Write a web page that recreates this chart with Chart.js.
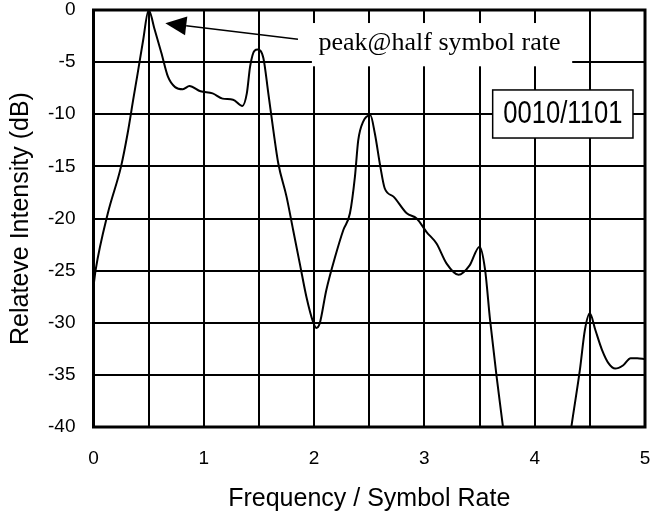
<!DOCTYPE html>
<html>
<head>
<meta charset="utf-8">
<script src="https://cdn.jsdelivr.net/npm/chart.js@4"></script>
<style>
body{
    margin:0;
    background:#fff;
}
#wrap{
    width:650px;
    height:518px;
}
</style>
</head>
<body>
<div id="wrap">
<canvas id="spectrumChart" width="650" height="518"></canvas>
</div>
<script>

// ======================
// DATA
// ======================

const freq = [
    0.00, 0.02, 0.13, 0.25, 0.31, 0.36, 0.40, 0.45, 0.50,
    0.555, 0.615, 0.675, 0.74, 0.81, 0.87, 0.97, 1.08, 1.17,
    1.265, 1.35, 1.39, 1.42, 1.46, 1.49, 1.54, 1.585, 1.63,
    1.675, 1.75, 1.81, 1.87, 1.93, 1.99, 2.02, 2.05, 2.11,
    2.19, 2.265, 2.325, 2.37, 2.40, 2.445, 2.51, 2.55, 2.60,
    2.64, 2.72, 2.84, 2.93, 3.02, 3.11, 3.20, 3.31, 3.41,
    3.50, 3.55, 3.595, 3.655, 3.71, 3.75,
    4.00,
    4.30, 4.335, 4.41, 4.455, 4.50, 4.55, 4.61, 4.67, 4.73,
    4.80, 4.87, 4.93, 5.00
];

const intensity = [
    -26.5, -24.9, -19.5, -15.0, -11.8, -8.6, -6.1, -2.9, 0,
    -1.9, -4.1, -6.4, -7.4, -7.6, -7.3, -7.8, -8.0, -8.5,
    -8.6, -9.2, -8.0, -5.4, -3.9, -3.8, -4.6, -8.0, -11.5,
    -14.7, -17.9, -21.1, -24.3, -27.5, -29.9, -30.5, -30.1, -26.9,
    -23.7, -21.1, -19.5, -16.0, -12.5, -10.7, -10.1, -11.8, -15.0,
    -17.1, -17.9, -19.5, -20.0, -21.3, -22.4, -24.3, -25.4, -24.5,
    -22.7, -24.9, -29.7, -35.2, -39.8, -43.5,
    null,
    -42.5, -39.8, -34.5, -30.7, -29.1, -30.7, -32.6, -33.9, -34.4,
    -34.1, -33.4, -33.4, -33.5
];

const xTicks = [0, 1, 2, 3, 4, 5];

const peakNote = "peak@half symbol rate";
const codeNote = "0010/1101";

// ======================
// ANNOTATIONS
// ======================

const notes = {
    textBox: {x0: 1.98, x1: 4.34, y0: -1.25, y1: -5.4},
    text: {x: 2.04, y: -3.88},
    arrowTip: {x: 0.651, y: -1.28},
    arrowEnd: {x: 1.854, y: -2.8},
    codeBox: {x0: 3.619, x1: 4.891, y0: -7.67, y1: -12.28}
};

const framePlugin = {
    id: "frame",
    beforeDatasetsDraw(chart){
        const {ctx, chartArea} = chart;
        ctx.save();
        ctx.strokeStyle = "#000";
        ctx.lineWidth = 3;
        ctx.strokeRect(
            chartArea.left,
            chartArea.top,
            chartArea.right - chartArea.left,
            chartArea.bottom - chartArea.top
        );
        ctx.restore();
    },
    afterDatasetsDraw(chart){
        const {ctx} = chart;
        const xs = chart.scales.x;
        const ys = chart.scales.y;
        const px = v => xs.getPixelForValue(v);
        const py = v => ys.getPixelForValue(v);

        ctx.save();

        // white patch behind the peak note
        const tb = notes.textBox;
        ctx.fillStyle = "#fff";
        ctx.fillRect(px(tb.x0), py(tb.y0), px(tb.x1) - px(tb.x0), py(tb.y1) - py(tb.y0));

        ctx.fillStyle = "#000";
        ctx.font = "26px 'Liberation Serif', 'DejaVu Serif', serif";
        ctx.textAlign = "left";
        ctx.textBaseline = "alphabetic";
        ctx.fillText(peakNote, px(notes.text.x), py(notes.text.y));

        // arrow
        const tx = px(notes.arrowTip.x);
        const ty = py(notes.arrowTip.y);
        const ex = px(notes.arrowEnd.x);
        const ey = py(notes.arrowEnd.y);
        const ang = Math.atan2(ey - ty, ex - tx);
        const headLen = 21;
        const headHalf = 9.5;
        const bx = tx + Math.cos(ang) * headLen;
        const by = ty + Math.sin(ang) * headLen;

        ctx.strokeStyle = "#000";
        ctx.lineWidth = 1.5;
        ctx.beginPath();
        ctx.moveTo(bx, by);
        ctx.lineTo(ex, ey);
        ctx.stroke();

        ctx.beginPath();
        ctx.moveTo(tx, ty);
        ctx.lineTo(bx - Math.sin(ang) * headHalf, by + Math.cos(ang) * headHalf);
        ctx.lineTo(bx + Math.sin(ang) * headHalf, by - Math.cos(ang) * headHalf);
        ctx.closePath();
        ctx.fill();

        // code label box
        const cb = notes.codeBox;
        const l = px(cb.x0), r = px(cb.x1), t = py(cb.y0), b = py(cb.y1);
        ctx.fillStyle = "#fff";
        ctx.fillRect(l, t, r - l, b - t);
        ctx.lineWidth = 1.5;
        ctx.strokeRect(l, t, r - l, b - t);

        ctx.fillStyle = "#000";
        ctx.font = "32px 'Liberation Sans', Arial, sans-serif";
        ctx.textAlign = "center";
        ctx.textBaseline = "alphabetic";
        ctx.translate((l + r) / 2, t + 33);
        ctx.scale(0.8, 1);
        ctx.fillText(codeNote, 0, 0);

        ctx.restore();
    }
};

// ======================
// CHART
// ======================

new Chart(
document.getElementById("spectrumChart"),
{
type:"line",
data:{
datasets:[{
data: freq.map((f, i) => ({x: f, y: intensity[i]})),
borderColor:"#000",
borderWidth:2,
pointRadius:0,
fill:false,
cubicInterpolationMode:"monotone",
spanGaps:false
}]
},
options:{
responsive:false,
animation:false,
events:[],
layout:{
padding:{top:10, right:5, left:0, bottom:0}
},
plugins:{
legend:{display:false},
tooltip:{enabled:false}
},
scales:{
x:{
type:"linear",
min:0,
max:5,
afterFit(scale){
scale.height = 91;
scale.paddingLeft = 0;
scale.paddingRight = 0;
},
afterBuildTicks(scale){
const list = [];
for(let i = 0; i <= 10; i++){
list.push({value: i * 0.5});
}
scale.ticks = list;
},
ticks:{
autoSkip:false,
maxRotation:0,
padding:20,
color:"#000",
font:{family:"'Liberation Sans', Arial, sans-serif", size:19},
callback:v => xTicks.includes(v) ? String(v) : ""
},
grid:{
color:"#000",
lineWidth:2,
drawTicks:false
},
border:{display:false},
title:{
display:true,
text:"Frequency / Symbol Rate",
color:"#000",
font:{family:"'Liberation Sans', Arial, sans-serif", size:25},
padding:{top:0, bottom:4}
}
},
y:{
min:-40,
max:0,
afterFit(scale){
scale.width = 93.5;
scale.paddingTop = 0;
scale.paddingBottom = 0;
},
ticks:{
stepSize:5,
padding:18,
color:"#000",
font:{family:"'Liberation Sans', Arial, sans-serif", size:19}
},
grid:{
color:"#000",
lineWidth:2,
drawTicks:false
},
border:{display:false},
title:{
display:true,
text:"Relateve Intensity (dB)",
color:"#000",
font:{family:"'Liberation Sans', Arial, sans-serif", size:25},
padding:{top:6, bottom:0}
}
}
}
},
plugins:[framePlugin]
}
);

</script>
</body>
</html>
